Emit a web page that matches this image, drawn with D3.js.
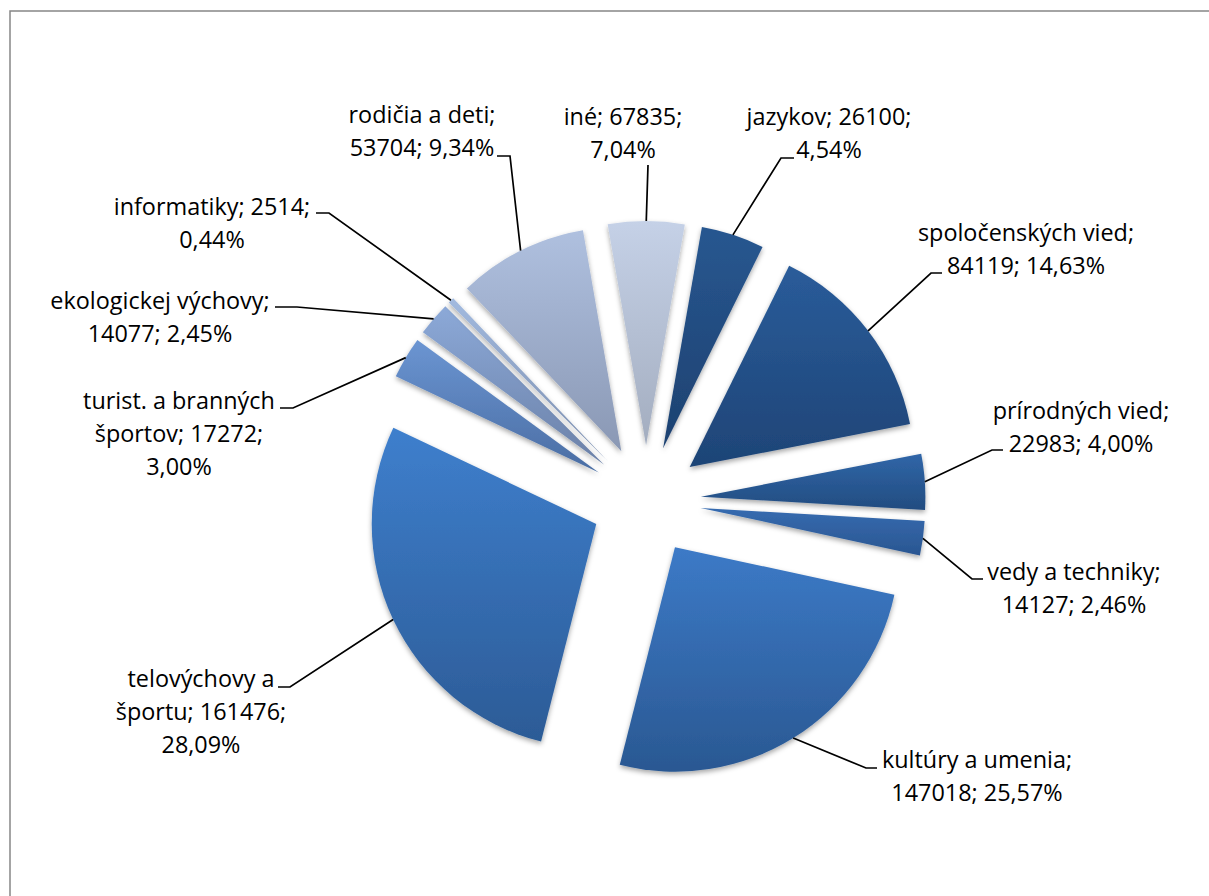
<!DOCTYPE html>
<html><head><meta charset="utf-8">
<script src="https://cdn.jsdelivr.net/npm/d3@7/dist/d3.min.js"></script>
<style>html,body{margin:0;padding:0;background:#fff;overflow:hidden}svg{display:block}
text{font-family:"Open Sans",Lato,sans-serif;font-size:23.4px;fill:#000}</style>
</head><body><svg id="c" width="1209" height="896"></svg>
<script>
const categories=["kultúry a umenia","telovýchovy a športu","turist. a branných športov","ekologickej výchovy","informatiky","rodičia a deti","iné","jazykov","spoločenských vied","prírodných vied","vedy a techniky"];
const values=[147018,161476,17272,14077,2514,53704,67835,26100,84119,22983,14127];
const percents=["25,57","28,09","3,00","2,45","0,44","9,34","7,04","4,54","14,63","4,00","2,46"];
// slice sizes as drawn in the picture (the "iné" slice is drawn near 5.5 %, not its label value)
const sliceShares=[25.57,28.09,3.00,2.45,0.44,9.34,5.50,4.54,14.63,4.00,2.46];
const labelLines=[
["kultúry a umenia;","147018; 25,57%"],
["telovýchovy a","športu; 161476;","28,09%"],
["turist. a branných","športov; 17272;","3,00%"],
["ekologickej výchovy;","14077; 2,45%"],
["informatiky; 2514;","0,44%"],
["rodičia a deti;","53704; 9,34%"],
["iné; 67835;","7,04%"],
["jazykov; 26100;","4,54%"],
["spoločenských vied;","84119; 14,63%"],
["prírodných vied;","22983; 4,00%"],
["vedy a techniky;","14127; 2,46%"]];
const topColors=["#3c7ac7","#3e7fcd","#6b95d2","#8ca9d8","#a2badf","#afc0df","#c5d1e7","#285790","#2a5c9a","#3066a8","#366bb0"];
const bottomColors=["#2a5892","#2c5b96","#4a6da3","#6b81a8","#7b8dad","#8a98b4","#a3adbf","#1d4170","#1e4476","#224c80","#2a5691"];

const cx=646,cy=500.5,R=224.5,explode=55,lineH=33;
// label centre x, first-line centre y, leader elbow(s)
const labelPos=[[977,760],[201,679],[179,401],[160,301],[212,207],[422,115],[623,117],[829,117],[1026,233],[1081,411],[1074,572]];
const leaderEnds=[[[866,768],[877,768]],[[290,687],[278,687]],[[293,408],[280,408]],[[297,307],[275,307]],[[329,213],[316,213]],[[510,156],[497,156]],[[648,165]],[[781,158],[794,158]],[[931,273],[942,273]],[[992,450],[1003,450]],[[972,579],[983,579]]];

const svg=d3.select("#c");
const defs=svg.append("defs");
const f=defs.append("filter").attr("id","sh").attr("x","-30%").attr("y","-30%").attr("width","160%").attr("height","160%");
f.append("feDropShadow").attr("dx",0).attr("dy",2.5).attr("stdDeviation",2.5).attr("flood-color","#000").attr("flood-opacity",0.35);
categories.forEach((c,i)=>{
  const g=defs.append("linearGradient").attr("id","g"+i).attr("x1",0).attr("y1",0).attr("x2",0).attr("y2",1);
  g.append("stop").attr("offset","0%").attr("stop-color",topColors[i]);
  g.append("stop").attr("offset","100%").attr("stop-color",bottomColors[i]);
});
svg.append("rect").attr("x",10).attr("y",11).attr("width",1300).attr("height",1000).attr("fill","#fff").attr("stroke","#868686").attr("stroke-width",1.5);

const start=102.2*Math.PI/180;
const pie=d3.pie().sort(null).value((d,i)=>sliceShares[i]).startAngle(start).endAngle(start+2*Math.PI);
const arcs=pie(categories);
const arc=d3.arc().innerRadius(0).outerRadius(R);
const dirOf=d=>{const a=(d.startAngle+d.endAngle)/2;return [Math.sin(a),-Math.cos(a)];};

const root=svg.append("g").attr("transform",`translate(${cx},${cy})`);
root.selectAll("path.s").data(arcs).join("path").attr("class","s")
 .attr("d",arc).attr("fill",(d,i)=>`url(#g${i})`).attr("filter","url(#sh)")
 .attr("transform",d=>{const [x,y]=dirOf(d);return `translate(${x*explode},${y*explode})`;});

const line=d3.line();
svg.selectAll("path.l").data(arcs).join("path").attr("class","l")
 .attr("fill","none").attr("stroke","#000").attr("stroke-width",1.7)
 .attr("d",(d,i)=>{const [x,y]=dirOf(d);const r=R+explode;return line([[cx+x*r,cy+y*r],...leaderEnds[i]]);});

const t=svg.selectAll("text.lab").data(labelLines).join("text").attr("class","lab").attr("text-anchor","middle");
t.each(function(lines,i){
  d3.select(this).selectAll("tspan").data(lines).join("tspan")
   .attr("x",labelPos[i][0]).attr("y",(l,j)=>labelPos[i][1]+j*lineH).attr("dy","0.35em").text(l=>l);
});
</script></body></html>
